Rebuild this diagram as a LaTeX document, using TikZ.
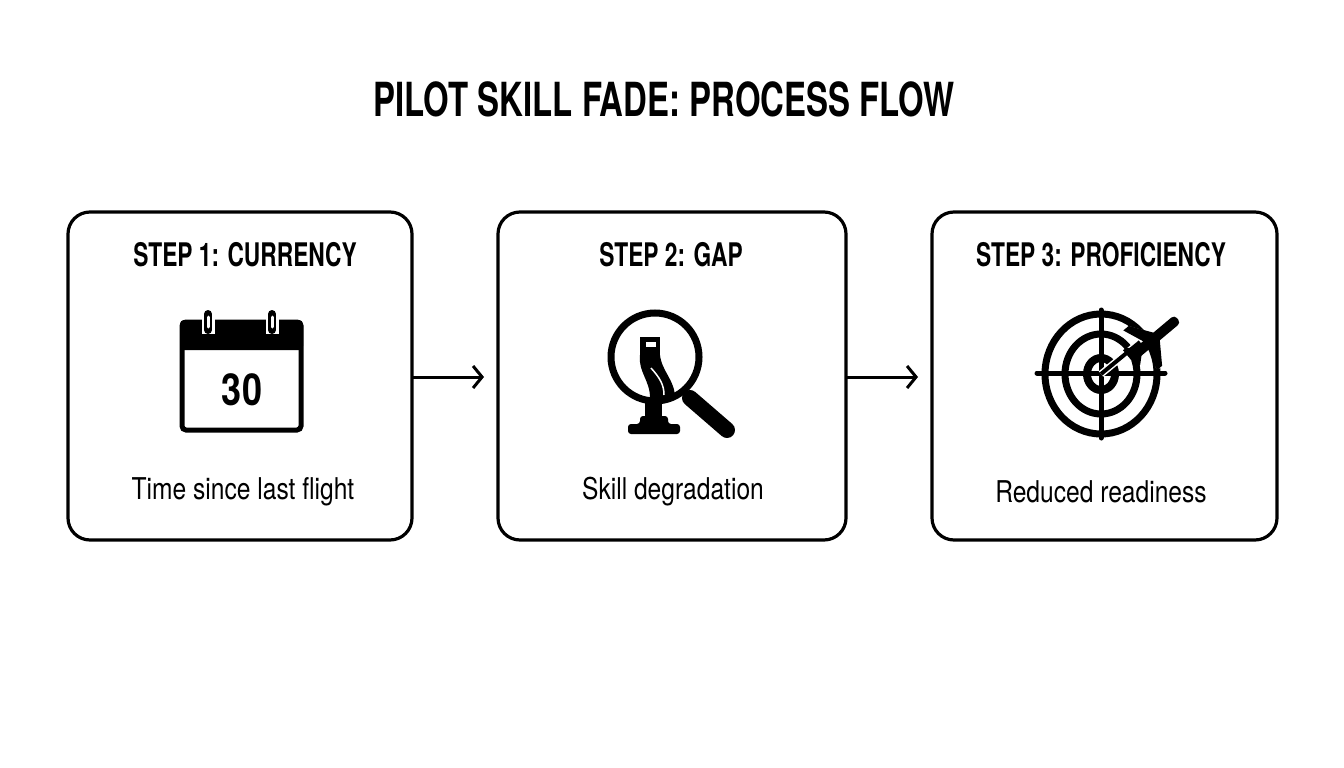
\documentclass[tikz,border=0pt]{standalone}
\usepackage{fontspec}
\setmainfont{TeX Gyre Heros}[FakeStretch=0.82]
\newfontfamily\cond{TeX Gyre Heros}[FakeStretch=0.7]
\usetikzlibrary{arrows.meta}
\begin{document}
\begin{tikzpicture}[x=1pt,y=-1pt,
  card/.style={draw,line width=3.2pt,rounded corners=22pt},
  sttl/.style={font=\cond\bfseries\fontsize{32.5}{34}\selectfont},
  lbl/.style={font=\fontsize{30}{32}\selectfont},
  flow/.style={line width=3pt,-{Straight Barb[length=9pt,width=22pt,line width=3pt]}}]
\useasboundingbox (0,0) rectangle (1344,768);
\node[font=\cond\bfseries\fontsize{47}{50}\selectfont] (title) at (664,99) {PILOT SKILL FADE: PROCESS FLOW};
\foreach \n/\xa/\xb in {b1/68/412,b2/498/846,b3/932/1277}{
  \draw[card] (\xa,212) rectangle (\xb,540);
  \coordinate (\n w) at (\xa,377); \coordinate (\n e) at (\xb,377);
}
\node[sttl] (s1) at (245,255) {STEP 1: CURRENCY};
\node[sttl] (s2) at (671,255) {STEP 2: GAP};
\node[sttl] (s3) at (1101,255) {STEP 3: PROFICIENCY};
\node[lbl] (l1) at (243,492) {Time since last flight};
\node[lbl] (l2) at (673,492) {Skill degradation};
\node[lbl] (l3) at (1101,492) {Reduced readiness};
\draw[flow] (b1e) -- ([xshift=72]b1e);
\draw[flow] (b2e) -- ([xshift=72]b2e);
% calendar
\draw[line width=5pt,rounded corners=4pt] (182,322) rectangle (301,430);
\fill[rounded corners=4pt] (180,320) rectangle (303,350);
\foreach \x in {208,272}{\draw[line width=13pt,white] (\x,308)--(\x,334);\draw[line width=8pt,line cap=round] (\x,314)--(\x,330);\draw[line width=3pt,white,line cap=round] (\x,317)--(\x,327);}
\node[font=\bfseries\fontsize{44}{46}\selectfont] (cal) at (242,390) {30};
% magnifier
\draw[line width=7pt] (655,357) circle (44);
\draw[line width=16pt,line cap=round] (690,398) -- (727,430);
\fill (640,337) rectangle (660,360);
\fill (640,355) -- (660,355) .. controls (662,372) and (675,380) .. (675,398) -- (650,398) .. controls (650,380) and (638,372) .. (640,355) -- cycle;
\fill[white] (646,342) rectangle (656,347);
\draw[white,line width=1.5pt] (651,368) .. controls (660,378) and (664,385) .. (664,395);
\fill (645,402) rectangle (662,417);
\fill[rounded corners=3pt] (628,434) -- (628,424) -- (640,424) -- (640,416) -- (668,416) -- (668,424) -- (680,424) -- (680,434) -- cycle;
% target
\draw[line width=7pt] (1101,374) ellipse (56 and 60);
\draw[line width=7pt] (1101,374) ellipse (36 and 40);
\draw[line width=8pt] (1101,374) ellipse (14 and 16);
\draw[line width=5pt,line cap=round] (1101,310)--(1101,438) (1037,373)--(1165,373);
\draw[line width=7pt,white] (1101,374)--(1140,342);
\draw[line width=4pt] (1101,374)--(1140,342);
\begin{scope}[shift={(1150,342)},rotate=-50]
\draw[white,line width=6pt] (0,-34) -- (0,26) (-3,-6) -- (-26,10) (3,-6)--(26,10);
\fill[rounded corners=4pt] (-5,-36) rectangle (5,24);
\fill (-3,-10) -- (-26,6) -- (-26,13) -- (-3,4) -- (3,4) -- (26,13) -- (26,6) -- (3,-10) -- cycle;
\fill (-2,12) -- (-11,22) -- (-11,26) -- (11,26) -- (11,22) -- (2,12) -- cycle;
\end{scope}
\end{tikzpicture}
\end{document}
